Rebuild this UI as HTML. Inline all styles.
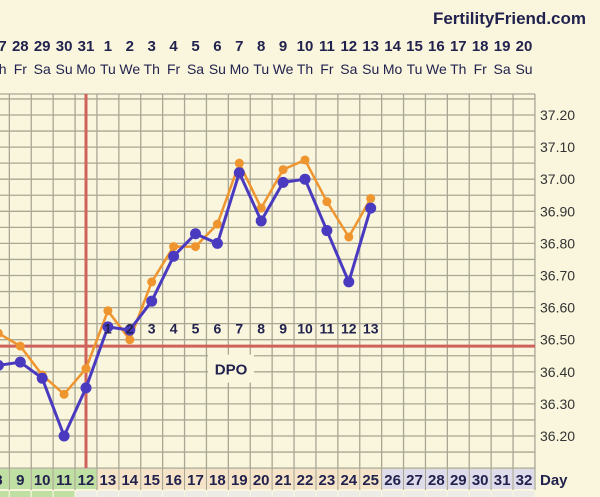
<!DOCTYPE html>
<html><head><meta charset="utf-8">
<style>
html,body{margin:0;padding:0;background:#f9f6dd;}
svg{display:block;font-family:"Liberation Sans",sans-serif;}
</style></head>
<body>
<svg id="chart" width="600" height="497" viewBox="0 0 600 497" xmlns="http://www.w3.org/2000/svg">
<rect x="0" y="0" width="600" height="497" fill="#f9f6dd"/>
<text x="586" y="24" text-anchor="end" font-size="17" font-weight="bold" fill="#22224e">FertilityFriend.com</text>
<g id="grid"></g>
<g id="series"></g>
<g id="labels"></g>
</svg>
<script>
const cycleDays = [8,9,10,11,12,13,14,15,16,17,18,19,20,21,22,23,24,25,26,27,28,29,30,31,32];
const dates = ["27","28","29","30","31","1","2","3","4","5","6","7","8","9","10","11","12","13","14","15","16","17","18","19","20"];
const weekdays = ["Th","Fr","Sa","Su","Mo","Tu","We","Th","Fr","Sa","Su","Mo","Tu","We","Th","Fr","Sa","Su","Mo","Tu","We","Th","Fr","Sa","Su"];
const yTicks = [37.20,37.10,37.00,36.90,36.80,36.70,36.60,36.50,36.40,36.30,36.20];
const blueDays = [8,9,10,11,12,13,14,15,16,17,18,19,20,21,22,23,24,25];
const blueTemps = [36.42,36.43,36.38,36.20,36.35,36.54,36.53,36.62,36.76,36.83,36.80,37.02,36.87,36.99,37.00,36.84,36.68,36.91];
const orangeTemps = [36.52,36.48,36.39,36.33,36.41,36.59,36.50,36.68,36.79,36.79,36.86,37.05,36.91,37.03,37.06,36.93,36.82,36.94];
const dpoLabels = ["1","2","3","4","5","6","7","8","9","10","11","12","13"];
const ovulationDay = 12;
const coverline = 36.48;

const NS="http://www.w3.org/2000/svg";
const colW=21.9;
function x(day){return 86+(day-12)*colW;}
function y(t){return 115+(37.2-t)*321;}
function mk(tag,attrs,parent){const e=document.createElementNS(NS,tag);for(const k in attrs)e.setAttribute(k,attrs[k]);parent.appendChild(e);return e;}
const grid=document.getElementById('grid'),labels=document.getElementById('labels'),series=document.getElementById('series');
const gTop=94,gBot=468,gLeft=0,gRight=535;
for(let t=37.35;t>=36.04;t-=0.05){
  const yy=y(t); if(yy<gTop-1||yy>gBot+1) continue;
  const l=mk('line',{x1:gLeft,x2:gRight,y1:yy,y2:yy,stroke:'#a9a694','stroke-width':1.3},grid);
  
  
}
mk('line',{x1:0,x2:gRight,y1:gTop,y2:gTop,stroke:'#a9a694','stroke-width':1.3},grid);
for(let i=0;i<cycleDays.length+1;i++){
  const xx=x(cycleDays[0])-colW/2+i*colW;
  const l=mk('line',{x1:xx,x2:xx,y1:gTop,y2:490,stroke:'#a9a694','stroke-width':1.3},grid);
  
  
}
cycleDays.forEach(d=>{
  const fill=d<=12?'#bfe0a2':(d<=25?'#f6e4c8':'#dedcea');
  const r=mk('rect',{x:x(d)-colW/2+0.6,y:469,width:colW-1.2,height:20,fill:fill},grid);
  
  
  const t=mk('text',{x:x(d),y:485,'text-anchor':'middle','font-size':15,'font-weight':'bold',fill:'#22224e'},labels);
  t.textContent=d;
  
  
  const r2=mk('rect',{x:x(d)-colW/2+0.6,y:491,width:colW-1.2,height:8,fill:d<=11?'#bfe0a2':'#ecebe6'},grid);
  
  
});
const dl=mk('text',{x:540,y:485,'font-size':15,'font-weight':'bold',fill:'#22224e'},labels);
dl.textContent='Day';


cycleDays.forEach((d,i)=>{
  const t=mk('text',{x:x(d),y:51,'text-anchor':'middle','font-size':15,'font-weight':'bold',fill:'#22224e'},labels);
  t.textContent=dates[i];
  
  
  const w=mk('text',{x:x(d),y:74,'text-anchor':'middle','font-size':14,fill:'#22224e'},labels);
  w.textContent=weekdays[i];
  
  
});
yTicks.forEach(v=>{
  const t=mk('text',{x:540,y:y(v)+5,'font-size':14,fill:'#333'},labels);
  t.textContent=v.toFixed(2);
  
  
});
const cl=mk('line',{x1:0,x2:gRight,y1:y(coverline),y2:y(coverline),stroke:'#d0625c','stroke-width':3},series);


const ov=mk('line',{x1:x(ovulationDay),x2:x(ovulationDay),y1:gTop,y2:468,stroke:'#d0625c','stroke-width':3},series);


dpoLabels.forEach((s,i)=>{
  const t=mk('text',{x:x(ovulationDay+1+i),y:y(36.50)-6,'text-anchor':'middle','font-size':14,'font-weight':'bold',fill:'#22224e'},labels);
  t.textContent=s;
  
  
});
const db=mk('rect',{x:208,y:y(36.41)-14,width:46,height:28,fill:'#f9f6dd'},labels);


const dt=mk('text',{x:231,y:y(36.41)+6,'text-anchor':'middle','font-size':15,'font-weight':'bold',fill:'#22224e'},labels);
dt.textContent='DPO';


function drawSeries(temps,color,r,w,name){
  const pts=blueDays.map((d,i)=>x(d)+','+y(temps[i])).join(' ');
  const pl=mk('polyline',{points:pts,fill:'none',stroke:color,'stroke-width':w},series);
  
  
  blueDays.forEach((d,i)=>{
    const c=mk('circle',{cx:x(d),cy:y(temps[i]),r:r,fill:color},series);
    
    
  });
}
drawSeries(orangeTemps,'#ef952f',4.5,2.5,'orange-temp');
drawSeries(blueTemps,'#4a3ac0',5.5,3,'blue-temp');
</script>
</body></html>
